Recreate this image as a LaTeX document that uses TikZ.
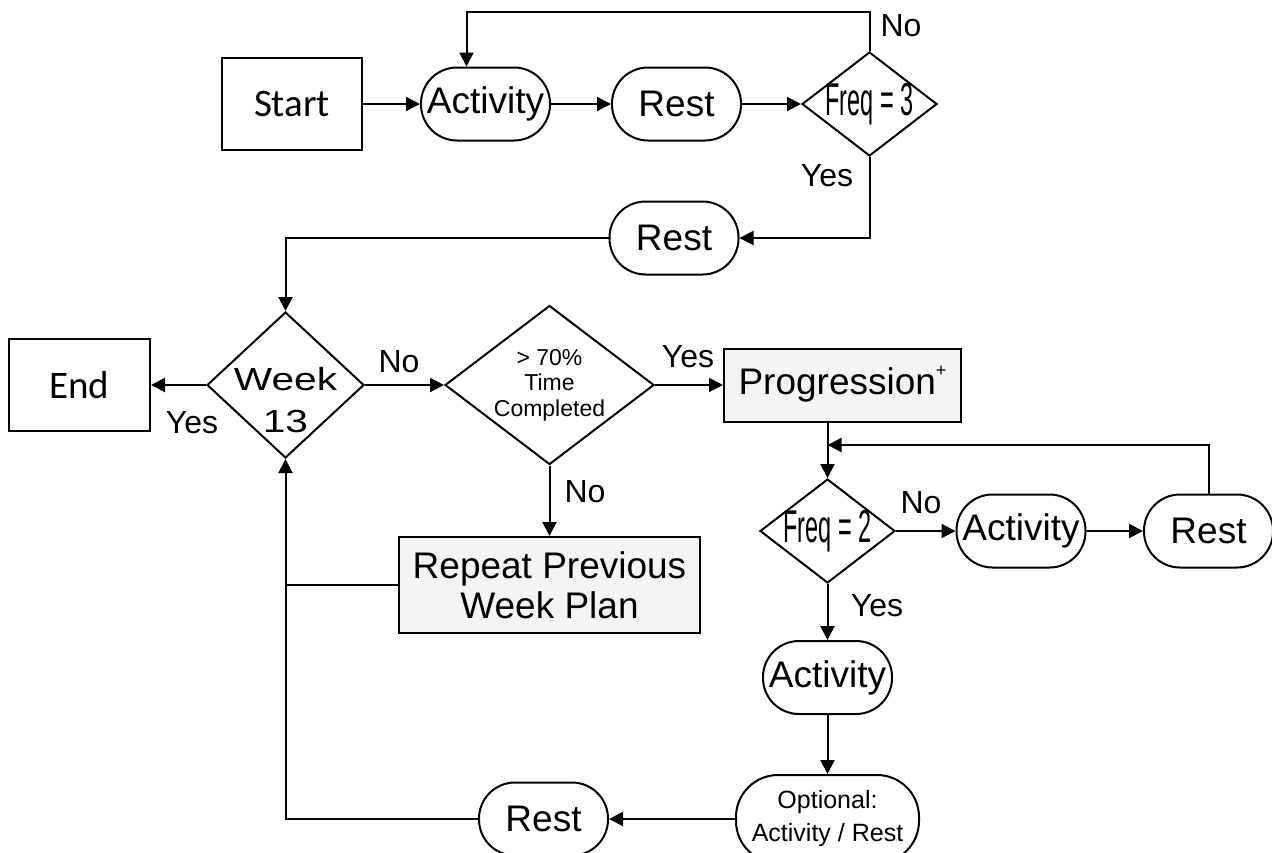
\documentclass[tikz,border=0pt]{standalone}
\usepackage{fontspec}
\usepackage{graphicx}
\setmainfont{Liberation Sans}
\newfontfamily\calfont{Carlito}
\usetikzlibrary{positioning}
\usetikzlibrary{shapes.geometric}
\usetikzlibrary{arrows.meta}
\definecolor{boxgray}{RGB}{244,244,244}
\newcommand{\narrowtext}[1]{\scalebox{0.51}[1]{#1}}
\newcommand{\widetext}[1]{\scalebox{1.27}[1]{#1}}
\newcommand{\plusmark}{\raisebox{9pt}[0pt][0pt]{\fontsize{9}{9}\selectfont +}}
\tikzset{% flow chart styles
        every node/.style={inner sep=0pt},
        arr/.style={line width=1pt,-{Triangle[length=7pt,width=7pt]}},
        line/.style={line width=1pt},
        endbox/.style={draw,line width=1pt,minimum width=70pt,minimum height=46pt,font=\calfont\fontsize{19.5}{23}\selectfont},
        graybox/.style={draw,line width=1pt,fill=boxgray,align=center,font=\fontsize{18.5}{20}\selectfont},
        pill/.style={draw,line width=1pt,rounded corners=18pt,minimum width=64.5pt,minimum height=36.5pt,font=\fontsize{18.5}{22}\selectfont},
        decision/.style={draw,diamond,line width=1pt,inner sep=-3pt,align=center},
        freqdia/.style={decision,minimum width=67.5pt,minimum height=52pt,inner sep=-4pt,font=\fontsize{23}{26}\selectfont},
        lbl/.style={font=\fontsize{16}{19}\selectfont}
        }

\begin{document}
\begin{tikzpicture}[x=0.5pt,y=-0.5pt]
\useasboundingbox (0,0) rectangle (1272,852);
\node [endbox] (start) at (292,104) {Start};
\node [pill] (act1) at (485.5,104) {Activity};
\node [pill] (rest1) at (676.5,104) {Rest};
\node [freqdia] (freq3) at (869.5,104) {\narrowtext{Freq = 3}};
\node [pill] (rest2) at (674,238) {Rest};
\node [decision,minimum width=78.5pt,minimum height=73pt,inner sep=-8pt,font=\fontsize{16}{21}\selectfont] (week) at (285.5,385) {\\[5.5pt]\widetext{Week}\\\widetext{13}};
\node [endbox,minimum width=70.5pt] (end) at (79.5,385) {End};
\node [decision,minimum width=104.5pt,minimum height=72.5pt,font=\fontsize{11.5}{12.75}\selectfont] (dia2) at (549.5,385) {> 70\%\\Time\\Completed};
\node [graybox,minimum width=118.5pt,minimum height=36.5pt] (prog) at (842.5,385) {Progression\plusmark};
\node [graybox,minimum width=150.5pt,minimum height=48pt] (repeat) at (549.5,585) {Repeat Previous\\Week Plan};
\node [freqdia] (freq2) at (827.5,531) {\narrowtext{Freq = 2}};
\node [pill] (act3) at (1021,531) {Activity};
\node [pill] (rest4) at (1208.5,531) {Rest};
\node [pill] (act4) at (827.5,677.5) {Activity};
\node [pill,minimum width=91.5pt,minimum height=44pt,rounded corners=21pt,align=center,font=\fontsize{12.5}{16.5}\selectfont] (opt) at (827.5,819) {Optional:\\Activity / Rest};
\node [pill] (rest3) at (543.5,819) {Rest};

% labels
\node [lbl] (no1) at (901,26) {No};
\node [lbl] (yes1) at (827,176) {Yes};
\node [lbl] (yes2) at (192,423) {Yes};
\node [lbl] (no2) at (399,362) {No};
\node [lbl] (yes3) at (688,357) {Yes};
\node [lbl] (no3) at (585,492) {No};
\node [lbl] (no4) at (921,503) {No};
\node [lbl] (yes4) at (877,606) {Yes};

\coordinate (act1in) at ([xshift=-9.5pt]act1.north);
\coordinate (loop1) at (0,12);
\coordinate (loop2) at (827.5,445);

\draw [arr] (start) -- (act1);
\draw [arr] (act1) -- (rest1);
\draw [arr] (rest1) -- (freq3);
\draw [arr] (freq3.north) |- (loop1 -| act1in) -- (act1in);
\draw [arr] (freq3.south) |- (rest2.east);
\draw [arr] (rest2.west) -| (week.north);
\draw [arr] (week) -- (end);
\draw [arr] (week) -- (dia2);
\draw [arr] (dia2) -- (prog);
\draw [arr] (dia2) -- (repeat);
\draw [line] (repeat.west) -- (repeat.west -| week);
\draw [arr] (rest3.west) -| (week.south);
\draw [arr] (prog.south -| freq2) -- (freq2.north);
\draw [arr] (rest4.north) |- (loop2);
\draw [arr] (freq2) -- (act3);
\draw [arr] (act3) -- (rest4);
\draw [arr] (freq2) -- (act4);
\draw [arr] (act4) -- (opt);
\draw [arr] (opt) -- (rest3);
\end{tikzpicture}
\end{document}
